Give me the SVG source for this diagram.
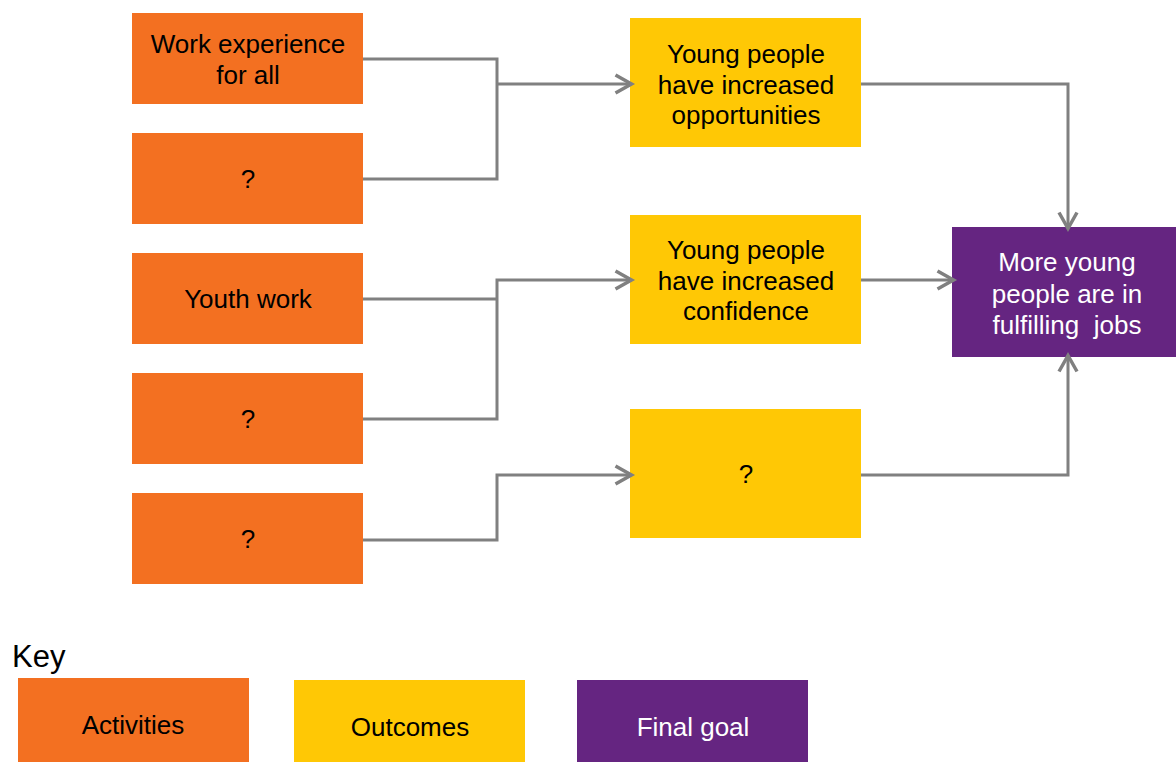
<svg xmlns="http://www.w3.org/2000/svg" width="1176" height="763" viewBox="0 0 1176 763">
  <style>
    .act { fill: #F37021; }
    .out { fill: #FFC805; }
    .goal { fill: #652581; }
    .t { font-family: "Liberation Sans", Arial, sans-serif; font-size: 26px; text-anchor: middle; fill: #000; }
    .w { fill: #fff; }
    .link { fill: none; stroke: #808080; stroke-width: 3; stroke-linejoin: miter; }
  </style>
  <defs>
    <marker id="chev" markerUnits="userSpaceOnUse" viewBox="-20 -12 24 24" refX="-1.5" refY="0" markerWidth="24" markerHeight="24" orient="auto" overflow="visible">
      <path d="M-16,-9 L0,0 L-16,9" fill="none" stroke="#808080" stroke-width="3.5" stroke-linejoin="miter"/>
    </marker>
  </defs>

  <!-- activities -->
  <g id="act-work-experience">
    <rect class="act" x="132" y="13" width="231" height="91"/>
    <text class="t" x="248" y="53">Work experience</text>
    <text class="t" x="248" y="84">for all</text>
  </g>
  <g id="act-unknown-1">
    <rect class="act" x="132" y="133" width="231" height="91"/>
    <text class="t" x="248" y="188">?</text>
  </g>
  <g id="act-youth-work">
    <rect class="act" x="132" y="253" width="231" height="91"/>
    <text class="t" x="248" y="308">Youth work</text>
  </g>
  <g id="act-unknown-2">
    <rect class="act" x="132" y="373" width="231" height="91"/>
    <text class="t" x="248" y="428">?</text>
  </g>
  <g id="act-unknown-3">
    <rect class="act" x="132" y="493" width="231" height="91"/>
    <text class="t" x="248" y="548">?</text>
  </g>

  <!-- outcomes -->
  <g id="out-opportunities">
    <rect class="out" x="630" y="18" width="231" height="129"/>
    <text class="t" x="746" y="63">Young people</text>
    <text class="t" x="746" y="94">have increased</text>
    <text class="t" x="746" y="124">opportunities</text>
  </g>
  <g id="out-confidence">
    <rect class="out" x="630" y="215" width="231" height="129"/>
    <text class="t" x="746" y="259">Young people</text>
    <text class="t" x="746" y="290">have increased</text>
    <text class="t" x="746" y="320">confidence</text>
  </g>
  <g id="out-unknown">
    <rect class="out" x="630" y="409" width="231" height="129"/>
    <text class="t" x="746" y="483">?</text>
  </g>

  <!-- final goal -->
  <g id="goal">
    <rect class="goal" x="952" y="227" width="224" height="130"/>
    <text class="t w" x="1067" y="271">More young</text>
    <text class="t w" x="1067" y="303">people are in</text>
    <text class="t w" x="1067" y="334" xml:space="preserve">fulfilling  jobs</text>
  </g>

  <!-- connectors -->
  <g id="connectors">
    <path class="link" d="M363,59 H497 V179 H363"/>
    <path class="link" d="M497,84 H630" marker-end="url(#chev)"/>
    <path class="link" d="M363,299 H497"/>
    <path class="link" d="M363,419 H497 V280 H630" marker-end="url(#chev)"/>
    <path class="link" d="M363,540 H497 V475 H630" marker-end="url(#chev)"/>
    <path class="link" d="M861,84 H1068 V227" marker-end="url(#chev)"/>
    <path class="link" d="M861,280 H952" marker-end="url(#chev)"/>
    <path class="link" d="M861,475 H1068 V357" marker-end="url(#chev)"/>
  </g>

  <!-- key -->
  <g id="key">
    <text x="12" y="667" font-family="Liberation Sans, Arial, sans-serif" font-size="31" fill="#000">Key</text>
    <g id="key-activities">
      <rect class="act" x="18" y="678" width="231" height="84"/>
      <text class="t" x="133" y="734">Activities</text>
    </g>
    <g id="key-outcomes">
      <rect class="out" x="294" y="680" width="231" height="82"/>
      <text class="t" x="410" y="736">Outcomes</text>
    </g>
    <g id="key-final-goal">
      <rect class="goal" x="577" y="680" width="231" height="82"/>
      <text class="t w" x="693" y="736">Final goal</text>
    </g>
  </g>
</svg>
